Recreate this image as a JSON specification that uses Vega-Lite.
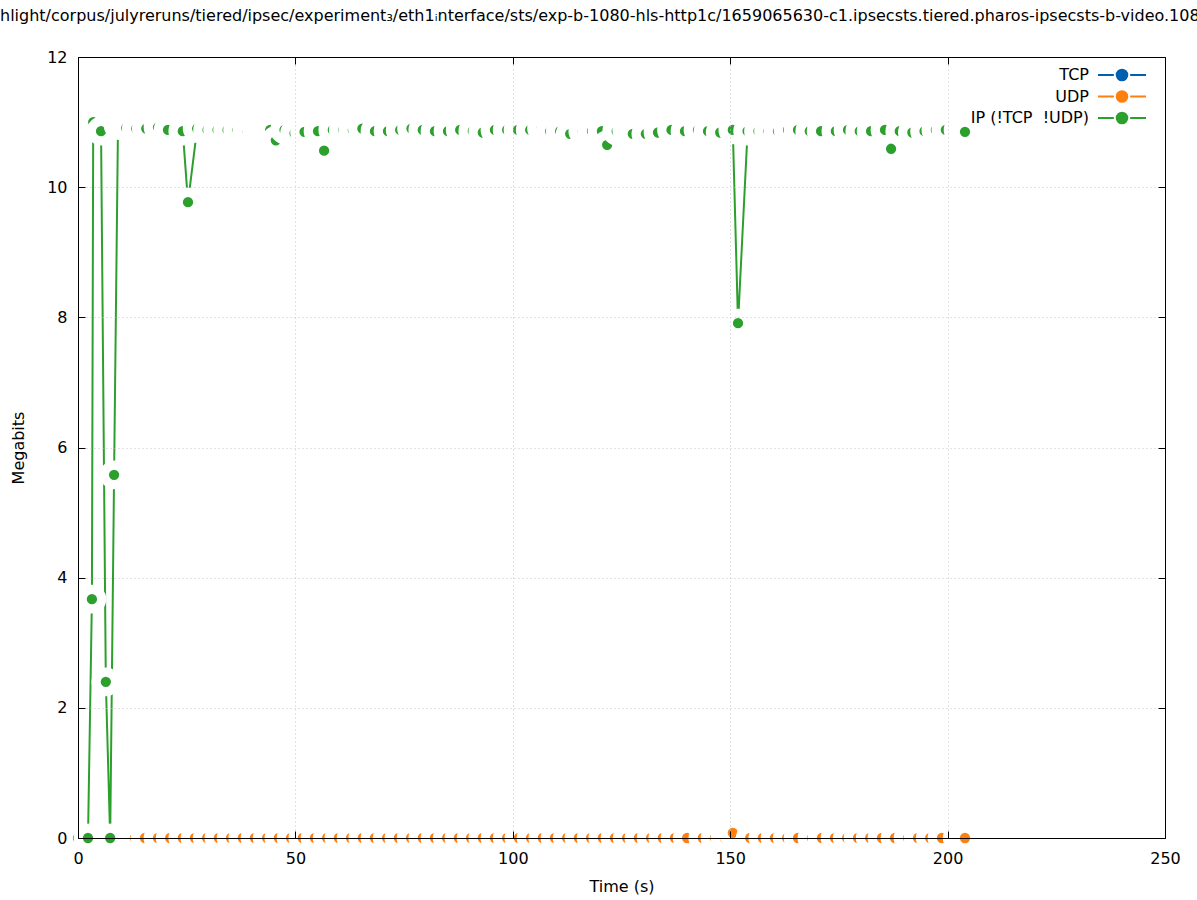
{
  "$schema": "https://vega.github.io/schema/vega-lite/v6.json",
  "width": 1087,
  "height": 781,
  "autosize": {"type": "none"},
  "padding": {"left": 78, "top": 57, "right": 32, "bottom": 62},
  "background": "white",
  "title": {
    "text": "hlight/corpus/julyreruns/tiered/ipsec/experiment₃/eth1ᵢnterface/sts/exp-b-1080-hls-http1c/1659065630-c1.ipsecsts.tiered.pharos-ipsecsts-b-video.108",
    "anchor": "start",
    "frame": "group",
    "dx": -78,
    "offset": 25,
    "font": "DejaVu Sans",
    "fontSize": 16,
    "fontWeight": "normal",
    "color": "black"
  },
  "config": {
    "view": {"stroke": null},
    "font": "DejaVu Sans",
    "axis": {
      "labelFont": "DejaVu Sans",
      "titleFont": "DejaVu Sans",
      "labelFontSize": 16,
      "titleFontSize": 16,
      "titleFontWeight": "normal",
      "labelColor": "black",
      "titleColor": "black",
      "domainColor": "black",
      "tickColor": "black",
      "gridColor": "#c4c4c4",
      "gridDash": [1, 3],
      "gridWidth": 1
    }
  },
  "datasets": {
    "traffic": [
      {"series": "UDP", "time": 2.3, "megabits": 0},
      {"series": "UDP", "time": 7.4, "megabits": 0},
      {"series": "UDP", "time": 10.1, "megabits": 0},
      {"series": "UDP", "time": 13.1, "megabits": 0},
      {"series": "UDP", "time": 15.4, "megabits": 0},
      {"series": "UDP", "time": 18.4, "megabits": 0},
      {"series": "UDP", "time": 21.2, "megabits": 0},
      {"series": "UDP", "time": 24.1, "megabits": 0},
      {"series": "UDP", "time": 26.9, "megabits": 0},
      {"series": "UDP", "time": 29.7, "megabits": 0},
      {"series": "UDP", "time": 32.4, "megabits": 0},
      {"series": "UDP", "time": 35.2, "megabits": 0},
      {"series": "UDP", "time": 37.9, "megabits": 0},
      {"series": "UDP", "time": 40.7, "megabits": 0},
      {"series": "UDP", "time": 43.5, "megabits": 0},
      {"series": "UDP", "time": 46.2, "megabits": 0},
      {"series": "UDP", "time": 49.0, "megabits": 0},
      {"series": "UDP", "time": 51.7, "megabits": 0},
      {"series": "UDP", "time": 54.5, "megabits": 0},
      {"series": "UDP", "time": 57.3, "megabits": 0},
      {"series": "UDP", "time": 60.0, "megabits": 0},
      {"series": "UDP", "time": 62.8, "megabits": 0},
      {"series": "UDP", "time": 65.5, "megabits": 0},
      {"series": "UDP", "time": 68.3, "megabits": 0},
      {"series": "UDP", "time": 71.1, "megabits": 0},
      {"series": "UDP", "time": 73.8, "megabits": 0},
      {"series": "UDP", "time": 76.6, "megabits": 0},
      {"series": "UDP", "time": 79.3, "megabits": 0},
      {"series": "UDP", "time": 82.1, "megabits": 0},
      {"series": "UDP", "time": 84.9, "megabits": 0},
      {"series": "UDP", "time": 87.6, "megabits": 0},
      {"series": "UDP", "time": 90.4, "megabits": 0},
      {"series": "UDP", "time": 93.1, "megabits": 0},
      {"series": "UDP", "time": 95.9, "megabits": 0},
      {"series": "UDP", "time": 98.7, "megabits": 0},
      {"series": "UDP", "time": 101.4, "megabits": 0},
      {"series": "UDP", "time": 104.2, "megabits": 0},
      {"series": "UDP", "time": 106.9, "megabits": 0},
      {"series": "UDP", "time": 109.7, "megabits": 0},
      {"series": "UDP", "time": 112.5, "megabits": 0},
      {"series": "UDP", "time": 115.2, "megabits": 0},
      {"series": "UDP", "time": 118.0, "megabits": 0},
      {"series": "UDP", "time": 120.7, "megabits": 0},
      {"series": "UDP", "time": 123.5, "megabits": 0},
      {"series": "UDP", "time": 126.3, "megabits": 0},
      {"series": "UDP", "time": 129.0, "megabits": 0},
      {"series": "UDP", "time": 131.8, "megabits": 0},
      {"series": "UDP", "time": 134.5, "megabits": 0},
      {"series": "UDP", "time": 137.3, "megabits": 0},
      {"series": "UDP", "time": 140.1, "megabits": 0},
      {"series": "UDP", "time": 143.7, "megabits": 0},
      {"series": "UDP", "time": 146.5, "megabits": 0},
      {"series": "UDP", "time": 148.8, "megabits": 0},
      {"series": "UDP", "time": 150.6, "megabits": 0.08},
      {"series": "UDP", "time": 154.6, "megabits": 0},
      {"series": "UDP", "time": 157.5, "megabits": 0},
      {"series": "UDP", "time": 160.3, "megabits": 0},
      {"series": "UDP", "time": 163.1, "megabits": 0},
      {"series": "UDP", "time": 165.6, "megabits": 0},
      {"series": "UDP", "time": 168.8, "megabits": 0},
      {"series": "UDP", "time": 171.1, "megabits": 0},
      {"series": "UDP", "time": 174.1, "megabits": 0},
      {"series": "UDP", "time": 176.9, "megabits": 0},
      {"series": "UDP", "time": 179.4, "megabits": 0},
      {"series": "UDP", "time": 182.2, "megabits": 0},
      {"series": "UDP", "time": 184.9, "megabits": 0},
      {"series": "UDP", "time": 187.9, "megabits": 0},
      {"series": "UDP", "time": 190.9, "megabits": 0},
      {"series": "UDP", "time": 193.2, "megabits": 0},
      {"series": "UDP", "time": 196.0, "megabits": 0},
      {"series": "UDP", "time": 198.7, "megabits": 0},
      {"series": "UDP", "time": 202.2, "megabits": 0},
      {"series": "UDP", "time": 204.0, "megabits": 0},
      {"series": "IP (!TCP\u00a0\u00a0!UDP)", "time": 0, "megabits": 0},
      {"series": "IP (!TCP\u00a0\u00a0!UDP)", "time": 2.3, "megabits": 0},
      {"series": "IP (!TCP\u00a0\u00a0!UDP)", "time": 3.2, "megabits": 3.67},
      {"series": "IP (!TCP\u00a0\u00a0!UDP)", "time": 3.5, "megabits": 11.0},
      {"series": "IP (!TCP\u00a0\u00a0!UDP)", "time": 5.3, "megabits": 10.86},
      {"series": "IP (!TCP\u00a0\u00a0!UDP)", "time": 6.4, "megabits": 2.40},
      {"series": "IP (!TCP\u00a0\u00a0!UDP)", "time": 7.4, "megabits": 0},
      {"series": "IP (!TCP\u00a0\u00a0!UDP)", "time": 8.3, "megabits": 5.58},
      {"series": "IP (!TCP\u00a0\u00a0!UDP)", "time": 9.2, "megabits": 10.95},
      {"series": "IP (!TCP\u00a0\u00a0!UDP)", "time": 11.1, "megabits": 10.91},
      {"series": "IP (!TCP\u00a0\u00a0!UDP)", "time": 13.4, "megabits": 10.9},
      {"series": "IP (!TCP\u00a0\u00a0!UDP)", "time": 15.7, "megabits": 10.9},
      {"series": "IP (!TCP\u00a0\u00a0!UDP)", "time": 18.4, "megabits": 10.92},
      {"series": "IP (!TCP\u00a0\u00a0!UDP)", "time": 20.7, "megabits": 10.88},
      {"series": "IP (!TCP\u00a0\u00a0!UDP)", "time": 24.1, "megabits": 10.86},
      {"series": "IP (!TCP\u00a0\u00a0!UDP)", "time": 25.3, "megabits": 9.77},
      {"series": "IP (!TCP\u00a0\u00a0!UDP)", "time": 27.4, "megabits": 10.9},
      {"series": "IP (!TCP\u00a0\u00a0!UDP)", "time": 29.8, "megabits": 10.88},
      {"series": "IP (!TCP\u00a0\u00a0!UDP)", "time": 32.1, "megabits": 10.88},
      {"series": "IP (!TCP\u00a0\u00a0!UDP)", "time": 34.4, "megabits": 10.88},
      {"series": "IP (!TCP\u00a0\u00a0!UDP)", "time": 36.7, "megabits": 10.88},
      {"series": "IP (!TCP\u00a0\u00a0!UDP)", "time": 38.9, "megabits": 10.88},
      {"series": "IP (!TCP\u00a0\u00a0!UDP)", "time": 41.0, "megabits": 10.9},
      {"series": "IP (!TCP\u00a0\u00a0!UDP)", "time": 42.6, "megabits": 10.88},
      {"series": "IP (!TCP\u00a0\u00a0!UDP)", "time": 44.2, "megabits": 10.88},
      {"series": "IP (!TCP\u00a0\u00a0!UDP)", "time": 45.5, "megabits": 10.72},
      {"series": "IP (!TCP\u00a0\u00a0!UDP)", "time": 47.5, "megabits": 10.88},
      {"series": "IP (!TCP\u00a0\u00a0!UDP)", "time": 49.8, "megabits": 10.83},
      {"series": "IP (!TCP\u00a0\u00a0!UDP)", "time": 52.1, "megabits": 10.85},
      {"series": "IP (!TCP\u00a0\u00a0!UDP)", "time": 55.2, "megabits": 10.86},
      {"series": "IP (!TCP\u00a0\u00a0!UDP)", "time": 56.6, "megabits": 10.56},
      {"series": "IP (!TCP\u00a0\u00a0!UDP)", "time": 58.6, "megabits": 10.88},
      {"series": "IP (!TCP\u00a0\u00a0!UDP)", "time": 61.0, "megabits": 10.88},
      {"series": "IP (!TCP\u00a0\u00a0!UDP)", "time": 63.2, "megabits": 10.88},
      {"series": "IP (!TCP\u00a0\u00a0!UDP)", "time": 65.4, "megabits": 10.9},
      {"series": "IP (!TCP\u00a0\u00a0!UDP)", "time": 68.3, "megabits": 10.86},
      {"series": "IP (!TCP\u00a0\u00a0!UDP)", "time": 71.3, "megabits": 10.86},
      {"series": "IP (!TCP\u00a0\u00a0!UDP)", "time": 74.1, "megabits": 10.88},
      {"series": "IP (!TCP\u00a0\u00a0!UDP)", "time": 76.7, "megabits": 10.9},
      {"series": "IP (!TCP\u00a0\u00a0!UDP)", "time": 79.3, "megabits": 10.88},
      {"series": "IP (!TCP\u00a0\u00a0!UDP)", "time": 82.1, "megabits": 10.86},
      {"series": "IP (!TCP\u00a0\u00a0!UDP)", "time": 85.1, "megabits": 10.86},
      {"series": "IP (!TCP\u00a0\u00a0!UDP)", "time": 87.9, "megabits": 10.88},
      {"series": "IP (!TCP\u00a0\u00a0!UDP)", "time": 90.8, "megabits": 10.86},
      {"series": "IP (!TCP\u00a0\u00a0!UDP)", "time": 93.1, "megabits": 10.84},
      {"series": "IP (!TCP\u00a0\u00a0!UDP)", "time": 95.9, "megabits": 10.88},
      {"series": "IP (!TCP\u00a0\u00a0!UDP)", "time": 98.7, "megabits": 10.88},
      {"series": "IP (!TCP\u00a0\u00a0!UDP)", "time": 101.2, "megabits": 10.88},
      {"series": "IP (!TCP\u00a0\u00a0!UDP)", "time": 104.0, "megabits": 10.88},
      {"series": "IP (!TCP\u00a0\u00a0!UDP)", "time": 106.6, "megabits": 10.9},
      {"series": "IP (!TCP\u00a0\u00a0!UDP)", "time": 108.6, "megabits": 10.86},
      {"series": "IP (!TCP\u00a0\u00a0!UDP)", "time": 110.9, "megabits": 10.86},
      {"series": "IP (!TCP\u00a0\u00a0!UDP)", "time": 113.2, "megabits": 10.82},
      {"series": "IP (!TCP\u00a0\u00a0!UDP)", "time": 116.1, "megabits": 10.86},
      {"series": "IP (!TCP\u00a0\u00a0!UDP)", "time": 118.2, "megabits": 10.86},
      {"series": "IP (!TCP\u00a0\u00a0!UDP)", "time": 120.5, "megabits": 10.86},
      {"series": "IP (!TCP\u00a0\u00a0!UDP)", "time": 121.7, "megabits": 10.65},
      {"series": "IP (!TCP\u00a0\u00a0!UDP)", "time": 123.9, "megabits": 10.86},
      {"series": "IP (!TCP\u00a0\u00a0!UDP)", "time": 126.2, "megabits": 10.88},
      {"series": "IP (!TCP\u00a0\u00a0!UDP)", "time": 127.6, "megabits": 10.82},
      {"series": "IP (!TCP\u00a0\u00a0!UDP)", "time": 130.6, "megabits": 10.82},
      {"series": "IP (!TCP\u00a0\u00a0!UDP)", "time": 133.4, "megabits": 10.84},
      {"series": "IP (!TCP\u00a0\u00a0!UDP)", "time": 136.5, "megabits": 10.88},
      {"series": "IP (!TCP\u00a0\u00a0!UDP)", "time": 139.6, "megabits": 10.86},
      {"series": "IP (!TCP\u00a0\u00a0!UDP)", "time": 142.6, "megabits": 10.88},
      {"series": "IP (!TCP\u00a0\u00a0!UDP)", "time": 144.9, "megabits": 10.86},
      {"series": "IP (!TCP\u00a0\u00a0!UDP)", "time": 147.7, "megabits": 10.84},
      {"series": "IP (!TCP\u00a0\u00a0!UDP)", "time": 150.6, "megabits": 10.88},
      {"series": "IP (!TCP\u00a0\u00a0!UDP)", "time": 151.8, "megabits": 7.91},
      {"series": "IP (!TCP\u00a0\u00a0!UDP)", "time": 154.0, "megabits": 10.86},
      {"series": "IP (!TCP\u00a0\u00a0!UDP)", "time": 156.5, "megabits": 10.86},
      {"series": "IP (!TCP\u00a0\u00a0!UDP)", "time": 158.8, "megabits": 10.86},
      {"series": "IP (!TCP\u00a0\u00a0!UDP)", "time": 161.0, "megabits": 10.86},
      {"series": "IP (!TCP\u00a0\u00a0!UDP)", "time": 163.3, "megabits": 10.88},
      {"series": "IP (!TCP\u00a0\u00a0!UDP)", "time": 165.6, "megabits": 10.88},
      {"series": "IP (!TCP\u00a0\u00a0!UDP)", "time": 168.3, "megabits": 10.86},
      {"series": "IP (!TCP\u00a0\u00a0!UDP)", "time": 170.9, "megabits": 10.86},
      {"series": "IP (!TCP\u00a0\u00a0!UDP)", "time": 174.3, "megabits": 10.86},
      {"series": "IP (!TCP\u00a0\u00a0!UDP)", "time": 177.1, "megabits": 10.88},
      {"series": "IP (!TCP\u00a0\u00a0!UDP)", "time": 179.8, "megabits": 10.86},
      {"series": "IP (!TCP\u00a0\u00a0!UDP)", "time": 182.4, "megabits": 10.86},
      {"series": "IP (!TCP\u00a0\u00a0!UDP)", "time": 185.6, "megabits": 10.88},
      {"series": "IP (!TCP\u00a0\u00a0!UDP)", "time": 187.0, "megabits": 10.59},
      {"series": "IP (!TCP\u00a0\u00a0!UDP)", "time": 189.0, "megabits": 10.86},
      {"series": "IP (!TCP\u00a0\u00a0!UDP)", "time": 191.9, "megabits": 10.84},
      {"series": "IP (!TCP\u00a0\u00a0!UDP)", "time": 194.7, "megabits": 10.86},
      {"series": "IP (!TCP\u00a0\u00a0!UDP)", "time": 197.3, "megabits": 10.88},
      {"series": "IP (!TCP\u00a0\u00a0!UDP)", "time": 199.6, "megabits": 10.88},
      {"series": "IP (!TCP\u00a0\u00a0!UDP)", "time": 202.4, "megabits": 10.88},
      {"series": "IP (!TCP\u00a0\u00a0!UDP)", "time": 204.0, "megabits": 10.85}
    ]
  },
  "data": {"name": "traffic"},
  "layer": [
    {
      "mark": {"type": "line", "strokeWidth": 2, "clip": false},
      "encoding": {
        "x": {
          "field": "time", "type": "quantitative",
          "scale": {"domain": [0, 250], "nice": false, "zero": false},
          "axis": {"orient": "bottom", "title": "Time (s)", "values": [0, 50, 100, 150, 200, 250], "zindex": 2,
                   "grid": true, "tickSize": -7, "labelPadding": 19, "labelFlush": false, "titlePadding": 12}
        },
        "y": {
          "field": "megabits", "type": "quantitative",
          "scale": {"domain": [0, 12], "nice": false, "zero": false},
          "axis": {"orient": "left", "title": "Megabits", "values": [0, 2, 4, 6, 8, 10, 12], "zindex": 2,
                   "grid": true, "tickSize": -7, "labelPadding": 18, "labelFlush": false, "titlePadding": 20}
        },
        "color": {
          "field": "series", "type": "nominal",
          "scale": {"domain": ["TCP", "UDP", "IP (!TCP\u00a0\u00a0!UDP)"], "range": ["#0060ad", "#ff7f0e", "#2ca02c"]},
          "legend": {
            "title": null, "orient": "none", "legendX": 1035, "legendY": 9,
            "symbolType": "M-3,0H-1.02M1.02,0H3M-0.66,0A0.66,0.66,0,1,1,0.66,0A0.66,0.66,0,1,1,-0.66,0Z",
            "symbolSize": 256, "symbolStrokeWidth": 2, "rowPadding": 1.5,
            "labelAlign": "right", "labelOffset": -42, "labelFontSize": 16, "labelFont": "DejaVu Sans", "labelColor": "black",
            "labelLimit": 400, "padding": 0,
            "encode": {"symbols": {"update": {"fill": {"scale": "color", "field": "value"}, "stroke": {"scale": "color", "field": "value"}, "opacity": {"value": 1}}}}
          }
        }
      }
    },
    {
      "mark": {"type": "point", "filled": true, "size": 380, "stroke": "white", "strokeWidth": 9.2, "opacity": 1, "strokeOpacity": 1, "clip": false},
      "encoding": {
        "x": {
          "field": "time", "type": "quantitative",
          "axis": {"orient": "top", "title": null, "labels": false, "grid": false, "zindex": 2, "values": [0, 50, 100, 150, 200, 250], "tickSize": -7}
        },
        "y": {
          "field": "megabits", "type": "quantitative",
          "axis": {"orient": "right", "title": null, "labels": false, "grid": false, "zindex": 2, "values": [0, 2, 4, 6, 8, 10, 12], "tickSize": -7}
        },
        "color": {"field": "series", "type": "nominal"}
      }
    }
  ],
  "resolve": {"axis": {"x": "independent", "y": "independent"}}
}
